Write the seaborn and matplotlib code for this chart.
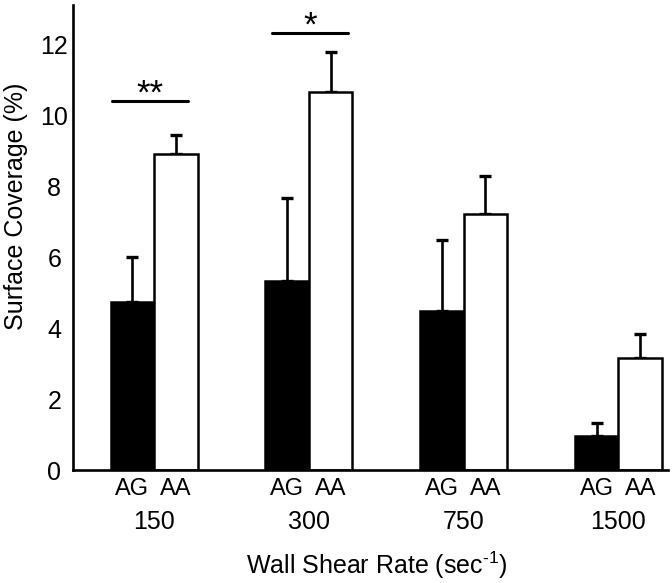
import numpy as np
import pandas as pd
import matplotlib
matplotlib.use("Agg")
import matplotlib.pyplot as plt
import seaborn as sns

# ---- data ----
shear_rates = ["150", "300", "750", "1500"]
genotypes = ["AG", "AA"]
ag_mean = [4.72, 5.32, 4.49, 0.96]
ag_err = [1.27, 2.33, 1.98, 0.37]
aa_mean = [8.89, 10.66, 7.20, 3.16]
aa_err = [0.55, 1.11, 1.08, 0.68]
yticks = [0, 2, 4, 6, 8, 10, 12]
sig_labels = ["**", "*"]
sig_heights = [10.39, 12.32]

sns.set_theme(style="white")
plt.rcParams["font.family"] = ["Liberation Sans", "DejaVu Sans"]
plt.rcParams["mathtext.fontset"] = "custom"
plt.rcParams["mathtext.rm"] = "Liberation Sans"
plt.rcParams["mathtext.it"] = "Liberation Sans"
for k in ["text.color", "axes.labelcolor", "xtick.color", "ytick.color"]:
    plt.rcParams[k] = "black"

df = pd.DataFrame({
    "rate": shear_rates * 2,
    "geno": ["AG"] * 4 + ["AA"] * 4,
    "cov": ag_mean + aa_mean,
})

fig = plt.figure(figsize=(6.72, 5.83), dpi=100)
ax = fig.add_axes([73 / 672, (583 - 470) / 583, (668 - 73) / 672, (470 - 5) / 583])

sns.barplot(data=df, x="rate", y="cov", hue="geno", order=shear_rates,
            hue_order=genotypes, palette={"AG": "black", "AA": "white"},
            edgecolor="black", linewidth=1.8, width=0.562, gap=0,
            errorbar=None, legend=False, ax=ax, zorder=2)

errs = {"AG": ag_err, "AA": aa_err}
minor_pos, minor_lab = [], []
for cont, g in zip(ax.containers, genotypes):
    xs = [p.get_x() + p.get_width() / 2 for p in cont]
    hs = [p.get_height() for p in cont]
    ax.errorbar(xs, hs, yerr=[np.zeros(len(hs)), errs[g]], fmt="none",
                ecolor="black", elinewidth=1.9, capsize=4.5, capthick=2.4,
                zorder=1)
    minor_pos += xs
    minor_lab += [g] * len(xs)

ax.set_xlim(-0.524, 3.32)
ax.set_ylim(0, 13.1)
ax.set_yticks(yticks)
ax.set_yticklabels([str(v) for v in yticks], fontsize=18, ha="center")
ax.tick_params(axis="y", length=0, pad=13.5)

ax.set_xticks(range(len(shear_rates)))
ax.set_xticklabels(shear_rates, fontsize=18)
ax.tick_params(axis="x", which="major", length=0, pad=29)
ax.set_xticks(minor_pos, minor=True)
ax.set_xticklabels(minor_lab, minor=True, fontsize=17)
ax.tick_params(axis="x", which="minor", length=0, pad=6)

for s in ["top", "right"]:
    ax.spines[s].set_visible(False)
for s in ["left", "bottom"]:
    ax.spines[s].set_color("black")
    ax.spines[s].set_linewidth(1.9)

# significance markers
sig_spans = [(-0.273, 0.218), (0.764, 1.255)]
for lab, (x0, x1), h in zip(sig_labels, sig_spans, sig_heights):
    ax.plot([x0, x1], [h, h], color="black", lw=2.2, clip_on=False)
    ax.text((x0 + x1) / 2, h - 0.08, lab, ha="center", va="baseline",
            fontsize=25, color="black")

ax.set_xlabel("Wall Shear Rate (sec$^{\\text{-1}}$)", fontsize=18, va="center")
ax.xaxis.set_label_coords(0.511, -0.205)
ax.set_ylabel("Surface Coverage (%)", fontsize=18, va="center")
ax.yaxis.set_label_coords(-0.0966, 0.568)

fig.savefig("out.png", dpi=100)
